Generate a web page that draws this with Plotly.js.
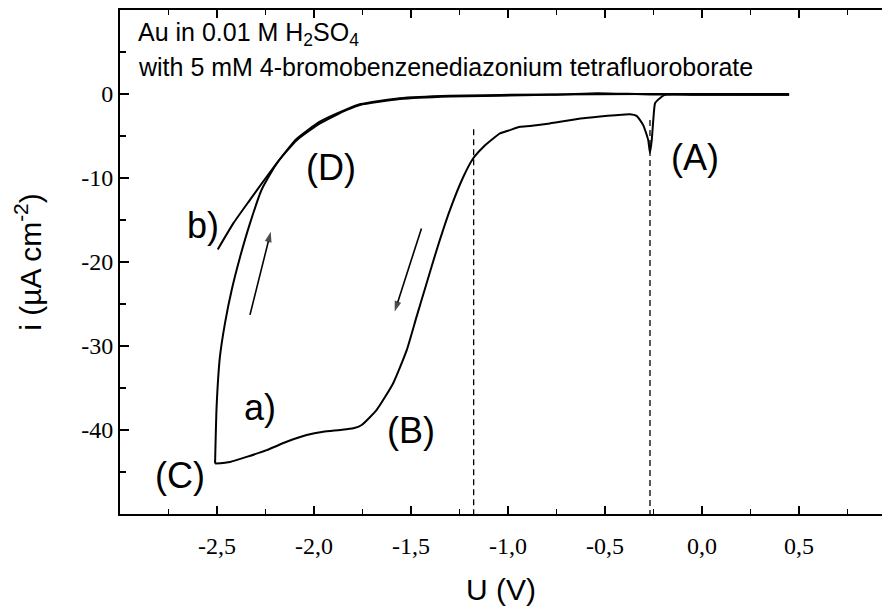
<!DOCTYPE html>
<html>
<head>
<meta charset="utf-8">
<script src="https://cdn.plot.ly/plotly-3.0.1.min.js"></script>
<style>html,body{margin:0;padding:0;background:#fff;}#chart{width:882px;height:606px;}</style>
</head>
<body>
<div id="chart"></div>
<script>
// Curve a) forward (cathodic) scan from +0.45 V to -2.5 V
const aFwdU = [0.449, -0.010, -0.191, -0.227, -0.242, -0.251, -0.259, -0.268, -0.277, -0.303, -0.337, -0.371,
  -0.612, -0.784, -0.887, -0.938, -0.990, -1.041, -1.076, -1.127, -1.179, -1.230, -1.299, -1.368, -1.419,
  -1.471, -1.522, -1.591, -1.677, -1.754, -1.797, -1.866, -1.952, -2.038, -2.141, -2.244, -2.347, -2.433, -2.510];
const aFwdI = [-0.1, -0.1, -0.1, -0.7, -1.1, -3.1, -5.5, -7.0, -5.5, -3.7, -2.6, -2.4,
  -2.9, -3.5, -3.8, -3.9, -4.3, -4.7, -5.3, -6.3, -7.65, -9.85, -13.8, -18.6, -22.5,
  -26.5, -30.5, -34.4, -37.6, -39.4, -39.8, -40.0, -40.2, -40.6, -41.4, -42.4, -43.2, -43.8, -44.0];
// Curve a) return scan from -2.5 V back to +0.45 V
const aRetU = [-2.510, -2.502, -2.485, -2.459, -2.424, -2.381, -2.330, -2.270, -2.192, -2.089, -1.969, -1.831, -1.763, -1.557,
  -1.299, -0.784, -0.541, -0.268, 0.449];
const aRetI = [-44.0, -37.2, -31.3, -27.3, -23.3, -19.4, -15.4, -11.4, -8.25, -5.5, -3.5, -1.9, -1.3, -0.6,
  -0.3, -0.1, 0.1, -0.05, -0.1];
// Curve b)
const bU = [-2.496, -2.416, -2.330, -2.244, -2.192, -2.093, -1.970, -1.830, -1.760, -1.560, -1.300, -0.780, -0.300, 0.449];
const bI = [-18.5, -15.4, -12.6, -9.85, -8.25, -5.4, -3.3, -1.8, -1.2, -0.5, -0.2, -0.05, 0.0, 0.0];
// Dashed markers
const dashU = [-1.177, -0.268];
const dashTop = [-4.2, -3.1];
const dashBottom = -50;
// Scan-direction arrows
const arrowTailU = [-1.446, -2.330];
const arrowTailI = [-16.0, -26.3];
const arrowHeadU = [-1.584, -2.223];
const arrowHeadI = [-25.9, -16.4];
// Labels
const labelText = ['(A)', '(B)', '(C)', '(D)', 'a)', 'b)'];
const labelU = [-0.036, -1.500, -2.691, -1.912, -2.278, -2.572];
const labelI = [-7.5, -40.0, -45.4, -8.7, -37.3, -15.7];
// Ticks
const xTickVals = [-2.5, -2.0, -1.5, -1.0, -0.5, 0.0, 0.5];
const xTickText = ['-2,5', '-2,0', '-1,5', '-1,0', '-0,5', '0,0', '0,5'];
const yTickVals = [-40, -30, -20, -10, 0];
const yTickText = ['-40', '-30', '-20', '-10', '0'];

const SANS = 'Liberation Sans, Arial, sans-serif';
const SERIF = 'Liberation Serif, Times New Roman, serif';

const curveLine = {color: '#000', width: 2, shape: 'spline', smoothing: 0.5};
const traces = [
  {x: aFwdU, y: aFwdI, mode: 'lines', line: curveLine, hoverinfo: 'skip', showlegend: false},
  {x: aRetU, y: aRetI, mode: 'lines', line: curveLine, hoverinfo: 'skip', showlegend: false},
  {x: bU, y: bI, mode: 'lines', line: curveLine, hoverinfo: 'skip', showlegend: false}
];
dashU.forEach((u, k) => {
  traces.push({x: [u, u], y: [dashTop[k], dashBottom], mode: 'lines',
    line: {color: '#000', width: 1.3, dash: '6px,4px'}, hoverinfo: 'skip', showlegend: false});
});
arrowTailU.forEach((u, k) => {
  traces.push({x: [u, arrowHeadU[k]], y: [arrowTailI[k], arrowHeadI[k]], mode: 'lines+markers',
    line: {color: '#000', width: 1.6},
    marker: {symbol: ['circle', 'arrow'], size: [0, 11], color: '#000', angleref: 'previous', line: {width: 0}},
    hoverinfo: 'skip', showlegend: false});
});

const annotations = [];
labelText.forEach((t, k) => {
  annotations.push({x: labelU[k], y: labelI[k], xref: 'x', yref: 'y', text: t, showarrow: false,
    xanchor: 'center', yanchor: 'middle', font: {family: SANS, size: 36, color: '#000'}});
});
annotations.push({x: 0.021, y: 0.988, xref: 'paper', yref: 'paper', xanchor: 'left', yanchor: 'top',
  text: 'Au in 0.01 M H<sub>2</sub>SO<sub>4</sub>', showarrow: false, align: 'left',
  font: {family: SANS, size: 25, color: '#000'}});
annotations.push({x: 0.021, y: 0.918, xref: 'paper', yref: 'paper', xanchor: 'left', yanchor: 'top',
  text: 'with 5 mM 4-bromobenzenediazonium tetrafluoroborate', showarrow: false, align: 'left',
  font: {family: SANS, size: 25, color: '#000'}});

const layout = {
  width: 882, height: 606,
  margin: {l: 120, r: 0, t: 10, b: 92, pad: 0},
  paper_bgcolor: '#fff', plot_bgcolor: '#fff',
  showlegend: false,
  xaxis: {
    range: [-3.0, 0.928], showgrid: false, zeroline: false,
    showline: true, linecolor: '#000', linewidth: 2, mirror: 'ticks',
    ticks: 'inside', ticklen: 8, tickwidth: 1.5, tickcolor: '#000',
    tickmode: 'array', tickvals: xTickVals, ticktext: xTickText, ticklabelstandoff: 9,
    tickfont: {family: SERIF, size: 24, color: '#000'},
    minor: {ticks: 'inside', ticklen: 5, tickwidth: 1.5, tickcolor: '#000', tickmode: 'linear', tick0: 0, dtick: 0.25, showgrid: false},
    title: {text: 'U (V)', standoff: 22, font: {family: SANS, size: 30, color: '#000'}}
  },
  yaxis: {
    range: [-50, 10], showgrid: false, zeroline: false,
    showline: true, linecolor: '#000', linewidth: 2, mirror: false,
    ticks: 'inside', ticklen: 9, tickwidth: 1.5, tickcolor: '#000',
    tickmode: 'array', tickvals: yTickVals, ticktext: yTickText,
    tickfont: {family: SERIF, size: 24, color: '#000'},
    minor: {ticks: 'inside', ticklen: 6, tickwidth: 1.5, tickcolor: '#000', tickmode: 'linear', tick0: 0, dtick: 5, showgrid: false},
    title: {text: 'i (µA cm<sup>-2</sup>)', standoff: 31, font: {family: SANS, size: 30, color: '#000'}}
  },
  annotations: annotations
};

Plotly.newPlot('chart', traces, layout, {staticPlot: true, displayModeBar: false});
</script>
</body>
</html>
